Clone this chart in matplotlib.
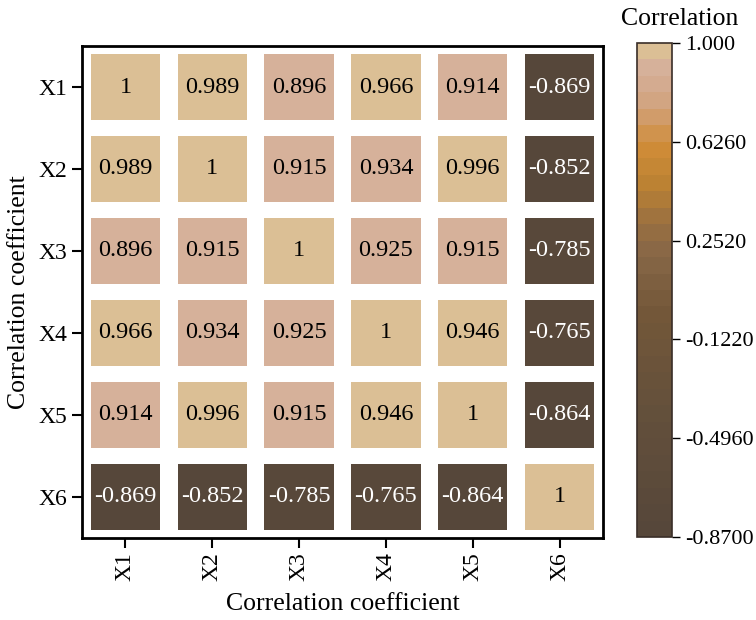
import numpy as np
import matplotlib
matplotlib.use('Agg')
import matplotlib.pyplot as plt
from matplotlib.colors import LinearSegmentedColormap, ListedColormap, Normalize
from matplotlib.patches import Rectangle
import matplotlib.cm as cm

# ============================================================
# 数据
# ============================================================

labels = ['X1', 'X2', 'X3', 'X4', 'X5', 'X6']
corr = np.array([
    [1,      0.989,  0.896,  0.966,  0.914,  -0.869],
    [0.989,  1,      0.915,  0.934,  0.996,  -0.852],
    [0.896,  0.915,  1,      0.925,  0.915,  -0.785],
    [0.966,  0.934,  0.925,  1,      0.946,  -0.765],
    [0.914,  0.996,  0.915,  0.946,  1,      -0.864],
    [-0.869, -0.852, -0.785, -0.765, -0.864, 1],
])
cbar_ticks = [-0.87, -0.496, -0.122, 0.252, 0.626, 1.0]
cbar_ticklabels = ['-0.8700', '-0.4960', '-0.1220', '0.2520', '0.6260', '1.000']
vmin, vmax = -0.87, 1.0

# ============================================================
# 颜色
# ============================================================

anchors = [
    (0.00, '#56473a'),
    (0.25, '#64503b'),
    (0.45, '#735739'),
    (0.58, '#876747'),
    (0.64, '#9a7040'),
    (0.72, '#bb8133'),
    (0.80, '#cf8c37'),
    (0.86, '#d19b68'),
    (0.90, '#d2a583'),
    (0.94, '#d4ac93'),
    (0.9655, '#d6b09a'),
    (1.00, '#dbbf95'),
]
base = LinearSegmentedColormap.from_list('corr', anchors)
n_bands = 30
cmap = ListedColormap(base(np.linspace(0, 1, n_bands)))
norm = Normalize(vmin=vmin, vmax=vmax)

plt.rcParams['font.family'] = ['Liberation Serif', 'DejaVu Serif']

fig = plt.figure(figsize=(7.56, 6.2), dpi=100)
ax = fig.add_axes([0.1085, 0.1323, 0.6891, 0.7935])

n = len(labels)
size = 0.8
for i in range(n):
    for j in range(n):
        v = corr[i, j]
        ax.add_patch(Rectangle((j - size / 2, i - size / 2), size, size,
                               facecolor=cmap(norm(v)), edgecolor='none'))
        txt = '1' if v == 1 else f'{v:.3f}'
        ax.text(j, i, txt, ha='center', va='center', fontsize=17.5,
                color='white' if v < 0 else 'black')

ax.set_xlim(-0.5, n - 0.5)
ax.set_ylim(n - 0.5, -0.5)
ax.set_xticks(range(n))
ax.set_yticks(range(n))
ax.set_xticklabels(labels, rotation=90, fontsize=17)
ax.set_yticklabels(labels, fontsize=17)
ax.tick_params(length=7, width=1.5, direction='out')
for s in ax.spines.values():
    s.set_linewidth(2)
ax.set_xlabel('Correlation coefficient', fontsize=18.5, labelpad=8)
ax.set_ylabel('Correlation coefficient', fontsize=18.5, labelpad=6)

# 色条
cax = fig.add_axes([0.8426, 0.1339, 0.0463, 0.7967])
sm = cm.ScalarMappable(norm=norm, cmap=cmap)
cb = fig.colorbar(sm, cax=cax, ticks=cbar_ticks)
cb.ax.set_yticklabels(cbar_ticklabels, fontsize=16)
cb.ax.tick_params(length=6, width=1)
cb.outline.set_edgecolor('#3a2e28')
cb.outline.set_linewidth(1.2)
fig.text(0.899, 0.97, 'Correlation', ha='center', va='center', fontsize=18.5)

fig.savefig('out.png', dpi=100)
